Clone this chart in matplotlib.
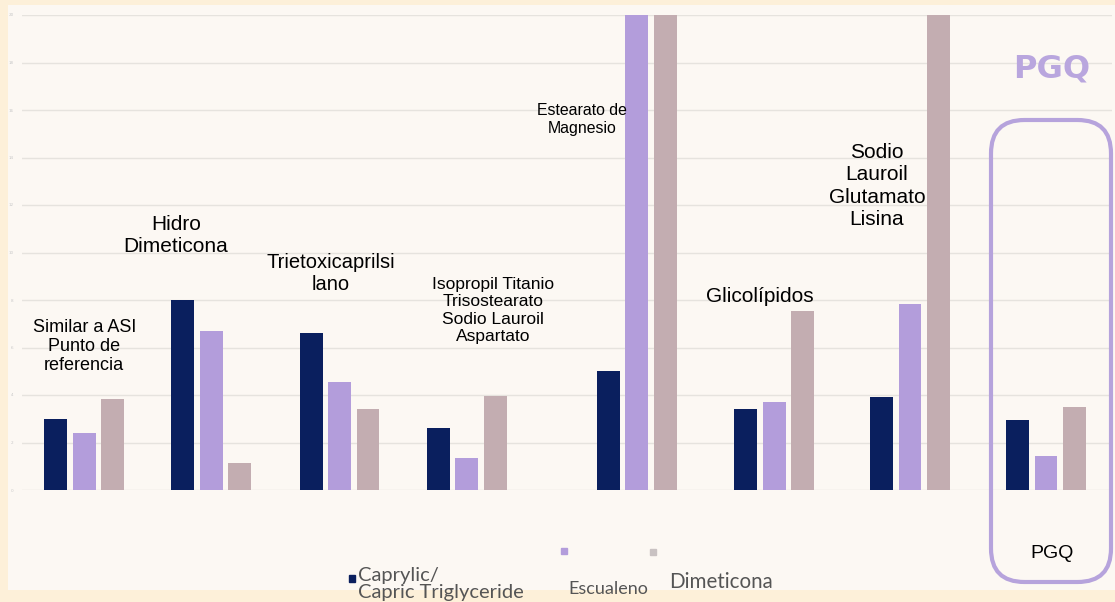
import matplotlib.pyplot as plt
from matplotlib.patches import FancyBboxPatch, Rectangle

# Data (bars above 20 are cut at the top)
groups = ["Similar a ASI\nPunto de\nreferencia", "Hidro\nDimeticona", "Trietoxicaprilsi\nlano",
          "Isopropil Titanio\nTrisostearato\nSodio Lauroil\nAspartato", "Estearato de\nMagnesio",
          "Glicolípidos", "Sodio\nLauroil\nGlutamato\nLisina", "PGQ"]
caprylic = [3.0, 8.0, 6.6, 2.6, 5.0, 3.4, 3.9, 2.95]
escualeno = [2.4, 6.7, 4.55, 1.35, 21.0, 3.7, 7.85, 1.45]
dimeticona = [3.85, 1.15, 3.4, 3.95, 21.0, 7.55, 21.0, 3.5]
series_names = ["Caprylic/\nCapric Triglyceride", "Escualeno", "Dimeticona"]
yticks = [0, 2, 4, 6, 8, 10, 12, 14, 16, 18, 20]

# group centres (uneven spacing as in the picture)
group_x = [0, 1, 2.01, 3.01, 4.35, 5.43, 6.5, 7.57]
colors = ["#0A1F5E", "#B39DDB", "#C3ADB1"]
bw = 0.18
step = 0.224

fig = plt.figure(figsize=(11.15, 6.02), dpi=100)
fig.patch.set_facecolor("#FDF0D9")
fig.patches.append(Rectangle((8 / 1115, 12 / 602), 1 - 8 / 1115, 1 - 17 / 602,
                             transform=fig.transFigure, facecolor="#FCF8F3",
                             edgecolor="none", zorder=-10))

ax = fig.add_axes([22 / 1115, 1 - 490 / 602, 1090 / 1115, 475 / 602])
ax.set_facecolor("none")
for i, vals in enumerate([caprylic, escualeno, dimeticona]):
    xs = [g + (i - 1) * step for g in group_x]
    ax.bar(xs, vals, width=bw, color=colors[i], zorder=3)

ax.set_ylim(0, 20)
ax.set_xlim(-0.49, 8.09)
ax.set_yticks(yticks)
ax.set_yticklabels([str(t) for t in yticks], fontsize=3, color="#C8C8C8")
ax.set_xticks([])
ax.tick_params(axis="y", length=0, pad=6)
ax.grid(axis="y", color="#E6E3DE", linewidth=1, zorder=0)
for s in ax.spines.values():
    s.set_visible(False)

# category labels: (x, top y, font size, line spacing)
font = "Liberation Sans"
labels_pos = [(0.0, 7.2, 13, 1.17), (0.72, 11.58, 15, 1.2), (1.94, 9.98, 14.5, 1.22),
              (3.22, 8.97, 12.5, 1.2), (3.92, 16.3, 11.4, 1.25), (5.32, 8.55, 15, 1.2),
              (6.24, 14.6, 15, 1.21)]
for (x, y, fs, ls), txt in zip(labels_pos, groups[:7]):
    ax.text(x, y, txt, ha="center", va="top", fontsize=fs, family=font,
            color="black", linespacing=ls, zorder=5)
fig.text(1052 / 1115, 1 - 553 / 602, groups[7], ha="center", va="center",
         fontsize=14, family=font, color="black")

# PGQ highlight
fig.text(1052 / 1115, 1 - 69 / 602, "PGQ", ha="center", va="center", fontsize=23,
         fontweight="bold", family="DejaVu Sans", color="#B9A6DE")
box = FancyBboxPatch((991 / 1115, 1 - 582 / 602), 120 / 1115, 462 / 602,
                     boxstyle="round,pad=0,rounding_size=0.03", transform=fig.transFigure,
                     facecolor="none", edgecolor="#B6A3DC", linewidth=3, zorder=6,
                     mutation_aspect=1115 / 602)
fig.patches.append(box)

# legend drawn by hand to keep its odd layout
lg = "Lato"
fig.patches.append(Rectangle((349 / 1115, 1 - 582 / 602), 6 / 1115, 7 / 602,
                             transform=fig.transFigure, color=colors[0]))
fig.text(358 / 1115, 1 - 584 / 602, series_names[0], ha="left", va="center",
         fontsize=14.5, family=lg, color="#555555", linespacing=0.95)
fig.patches.append(Rectangle((561 / 1115, 1 - 554 / 602), 6 / 1115, 6 / 602,
                             transform=fig.transFigure, color=colors[1]))
fig.text(568 / 1115, 1 - 589 / 602, series_names[1], ha="left", va="center",
         fontsize=13, family=lg, color="#555555")
fig.patches.append(Rectangle((650 / 1115, 1 - 555 / 602), 6 / 1115, 6 / 602,
                             transform=fig.transFigure, color="#C9C2C2"))
fig.text(669 / 1115, 1 - 582 / 602, series_names[2], ha="left", va="center",
         fontsize=14.8, family=lg, color="#555555")

fig.savefig("out.png", dpi=100, facecolor=fig.get_facecolor())
